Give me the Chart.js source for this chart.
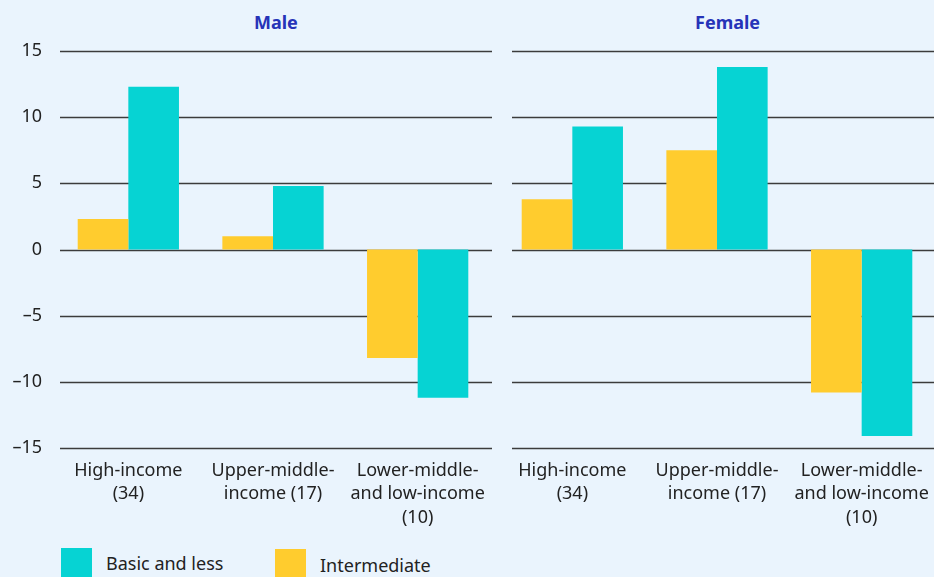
<!DOCTYPE html>
<html lang="en">
<head>
<meta charset="UTF-8">
<title>Male / Female by income group</title>
<script src="https://cdn.jsdelivr.net/npm/chart.js"></script>
<style>
    html, body { margin: 0; padding: 0; background: #eaf4fd; }
    body { width: 934px; height: 577px; position: relative; overflow: hidden; font-family: "Noto Sans", sans-serif; color: #222; }
    .panel { position: absolute; top: 0; height: 530px; }
    .panel-title { position: absolute; top: 10px; font-weight: bold; font-size: 18px; color: #2633b8; }
    .legend { position: absolute; top: 546px; left: 61px; display: flex; font-size: 18px; }
    .legend .item { display: flex; align-items: center; }
    .legend .box { width: 31px; height: 31px; margin-right: 14px; }
</style>
</head>
<body>

<div class="panel-title" style="left:254px">Male</div>
<div class="panel-title" style="left:695px">Female</div>

<div class="panel" style="left:0; width:496px"><canvas id="maleChart"></canvas></div>
<div class="panel" style="left:496px; width:438px"><canvas id="femaleChart"></canvas></div>

<div class="legend">
    <div class="item" style="width:214px"><div class="box" style="background:#06d3d3"></div>Basic and less</div>
    <div class="item" style="margin-top:3px"><div class="box" style="background:#ffcc2e"></div>Intermediate</div>
</div>

<script>
    // categories and values
    const categories = [
        ['High-income', '(34)'],
        ['Upper-middle-', 'income (17)'],
        ['Lower-middle-', 'and low-income', '(10)']
    ];
    const maleIntermediate = [2.3, 1.0, -8.2];
    const maleBasic = [12.3, 4.8, -11.2];
    const femaleIntermediate = [3.8, 7.5, -10.8];
    const femaleBasic = [9.3, 13.8, -14.1];
    const yTicks = [-15, -10, -5, 0, 5, 10, 15];

    const YELLOW = '#ffcc2e';
    const CYAN = '#06d3d3';

    // horizontal grid lines drawn behind the bars, with their own start x
    const gridPlugin = {
        id: 'hgrid',
        beforeDatasetsDraw(chart, args, opts) {
            const ctx = chart.ctx;
            const y = chart.scales.y;
            ctx.save();
            ctx.strokeStyle = '#3c3c3c';
            ctx.lineWidth = 1.3;
            yTicks.forEach(v => {
                const py = Math.round(y.getPixelForValue(v)) + 0.5;
                ctx.beginPath();
                ctx.moveTo(opts.x0, py);
                ctx.lineTo(opts.x1, py);
                ctx.stroke();
            });
            ctx.restore();
        }
    };

    function makeChart(id, inter, basic, showLabels, yWidth, padRight, gx0, gx1) {
        new Chart(document.getElementById(id), {
            type: 'bar',
            data: {
                labels: categories,
                datasets: [
                    { label: 'Intermediate', data: inter, backgroundColor: YELLOW },
                    { label: 'Basic and less', data: basic, backgroundColor: CYAN }
                ]
            },
            options: {
                responsive: true,
                maintainAspectRatio: false,
                animation: false,
                layout: { padding: { top: 51, right: padRight, left: 0, bottom: 0 } },
                datasets: { bar: { categoryPercentage: 0.7, barPercentage: 1 } },
                plugins: {
                    legend: { display: false },
                    tooltip: { enabled: false },
                    hgrid: { x0: gx0, x1: gx1 }
                },
                scales: {
                    x: {
                        grid: { display: false },
                        border: { display: false },
                        ticks: {
                            color: '#222',
                            font: { family: 'Noto Sans', size: 18, lineHeight: 1.3 },
                            padding: 3,
                            maxRotation: 0,
                            autoSkip: false
                        },
                        afterFit(scale) {
                            scale.height = 82;
                            scale.paddingLeft = 0;
                            scale.paddingRight = 0;
                        }
                    },
                    y: {
                        min: -15,
                        max: 15,
                        grid: { display: false },
                        border: { display: false },
                        ticks: {
                            display: showLabels,
                            stepSize: 5,
                            color: '#222',
                            font: { family: 'Noto Sans', size: 18 },
                            padding: 6,
                            callback: v => (v < 0 ? '\u2013' + Math.abs(v) : v)
                        },
                        afterFit(scale) {
                            scale.width = yWidth;
                            scale.paddingTop = 0;
                            scale.paddingBottom = 0;
                        }
                    }
                }
            },
            plugins: [gridPlugin]
        });
    }

    makeChart('maleChart', maleIntermediate, maleBasic, true, 56, 6, 60, 492);
    makeChart('femaleChart', femaleIntermediate, femaleBasic, false, 4, 0, 16, 438);
</script>
</body>
</html>
